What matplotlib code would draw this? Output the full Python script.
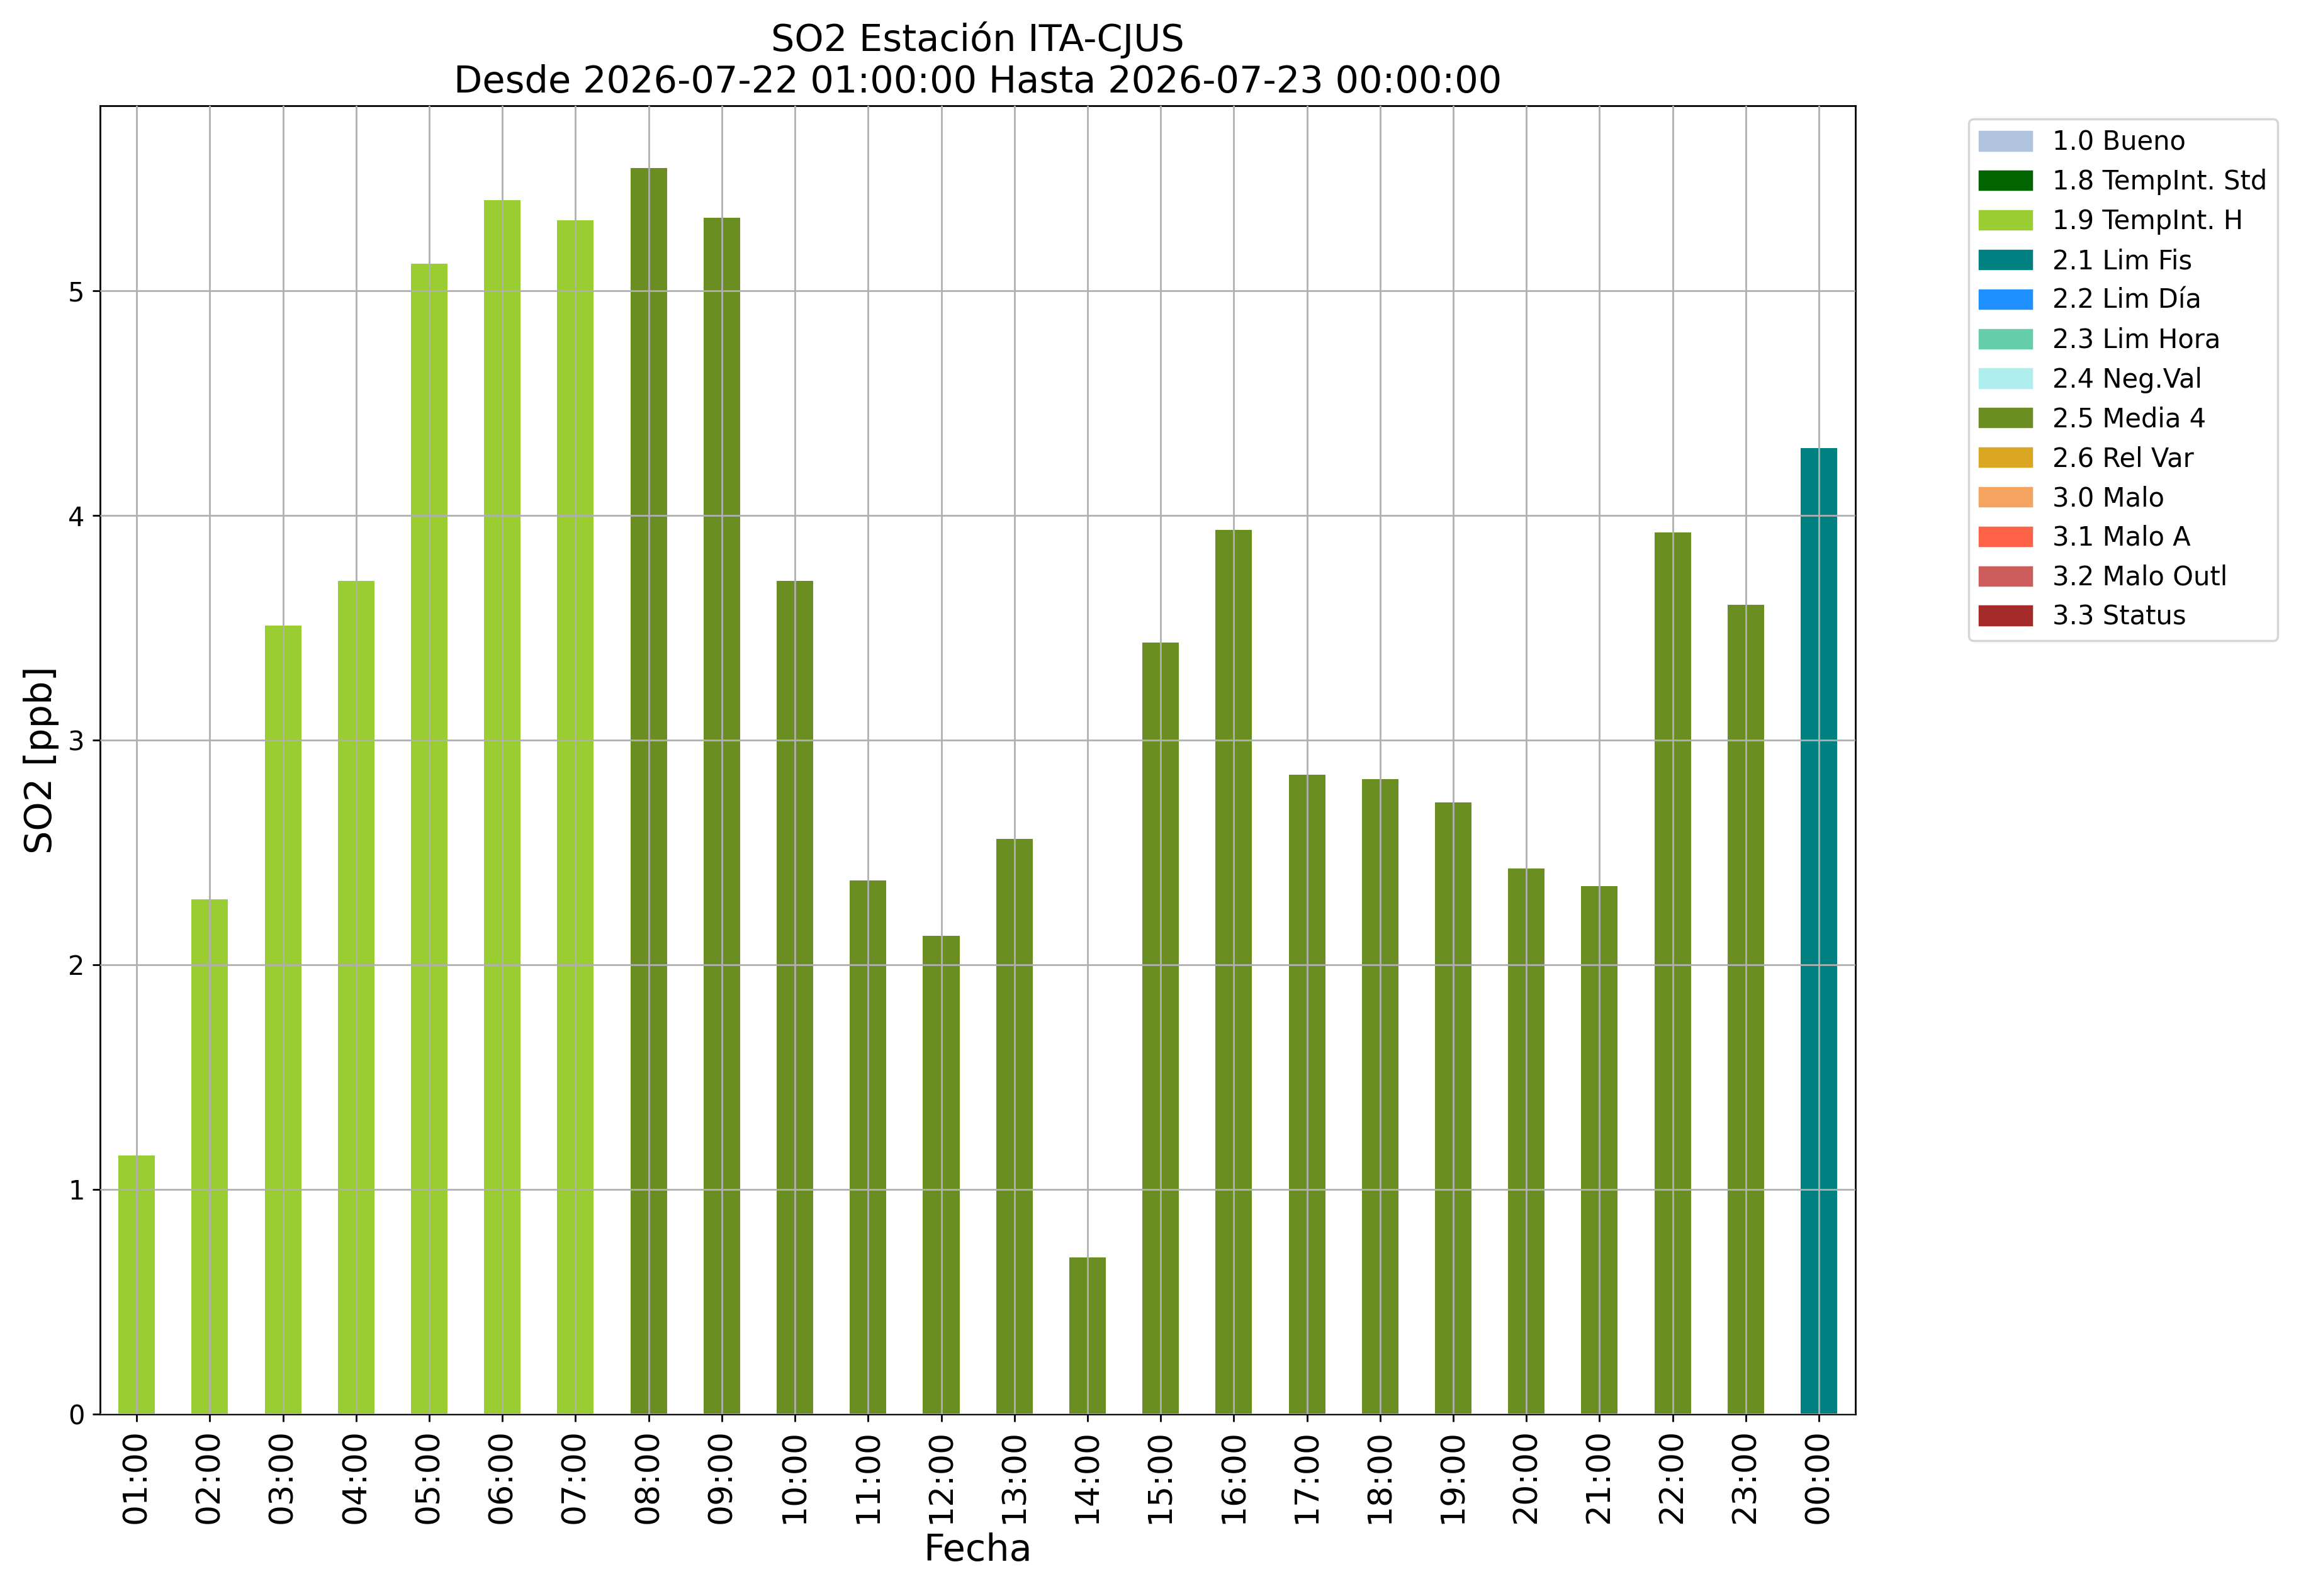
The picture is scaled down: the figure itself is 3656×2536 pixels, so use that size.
import matplotlib
matplotlib.use("Agg")
import matplotlib.pyplot as plt
from matplotlib.patches import Patch

# hourly SO2 values and validation flags
horas = ["01:00", "02:00", "03:00", "04:00", "05:00", "06:00", "07:00", "08:00",
         "09:00", "10:00", "11:00", "12:00", "13:00", "14:00", "15:00", "16:00",
         "17:00", "18:00", "19:00", "20:00", "21:00", "22:00", "23:00", "00:00"]
so2 = [1.15, 2.29, 3.51, 3.71, 5.12, 5.405, 5.315, 5.547,
       5.326, 3.709, 2.376, 2.128, 2.559, 0.698, 3.433, 3.936,
       2.846, 2.826, 2.722, 2.428, 2.350, 3.923, 3.603, 4.30]
flags = ["1.9"] * 7 + ["2.5"] * 16 + ["2.1"]

# flag code -> (label, colour)
flag_codes = ["1.0", "1.8", "1.9", "2.1", "2.2", "2.3", "2.4",
              "2.5", "2.6", "3.0", "3.1", "3.2", "3.3"]
flag_names = ["Bueno", "TempInt. Std", "TempInt. H", "Lim Fis", "Lim Día",
              "Lim Hora", "Neg.Val", "Media 4", "Rel Var", "Malo", "Malo A",
              "Malo Outl", "Status"]
flag_colors = ["lightsteelblue", "darkgreen", "yellowgreen", "teal", "dodgerblue",
               "mediumaquamarine", "paleturquoise", "olivedrab", "goldenrod",
               "sandybrown", "tomato", "indianred", "brown"]

color_of = dict(zip(flag_codes, flag_colors))

fig = plt.figure(figsize=(14.624, 10.144), dpi=250)
ax = fig.add_axes([0.0435, 0.1141, 0.8064 - 0.0435, 0.9338 - 0.1141])

x = list(range(len(horas)))
ax.bar(x, so2, width=0.5, color=[color_of[f] for f in flags])
ax.set_xlim(-0.5, len(horas) - 0.5)
ax.set_xticks(x)
ax.set_xticklabels(horas, rotation=90, fontsize=15)
ax.tick_params(axis="y", labelsize=12)

ax.grid(True, color="#b0b0b0", linewidth=0.8)
ax.set_axisbelow(False)

ax.set_xlabel("Fecha", fontsize=17)
ax.set_ylabel("SO2 [ppb]", fontsize=17)
ax.set_title("SO2 Estación ITA-CJUS\nDesde 2026-07-22 01:00:00 Hasta 2026-07-23 00:00:00",
             fontsize=17)

handles = [Patch(color=c, label=f"{code} {name}")
           for code, name, c in zip(flag_codes, flag_names, flag_colors)]
fig.legend(handles=handles, loc="upper left", bbox_to_anchor=(0.8556, 0.9255),
           borderaxespad=0, fontsize=12)

fig.savefig("out.png", dpi=250)
